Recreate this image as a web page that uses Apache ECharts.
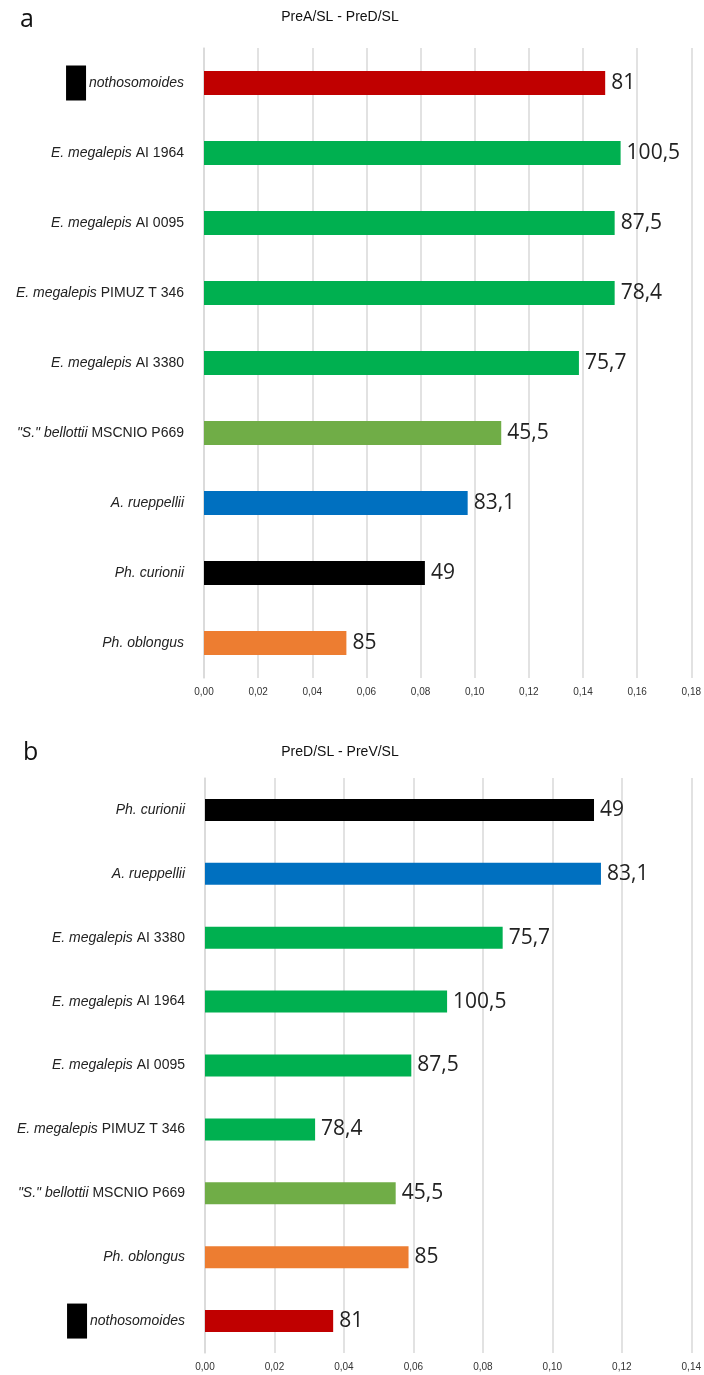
<!DOCTYPE html>
<html>
<head>
<meta charset="utf-8">
<script src="https://cdn.jsdelivr.net/npm/echarts@6/dist/echarts.min.js"></script>
<style>
  html, body { margin: 0; padding: 0; background: #fff; }
  #main { width: 704px; height: 1375px; }
</style>
</head>
<body>
<div id="main"></div>
<script>
  // panel a: PreA/SL - PreD/SL
  var catsA = ['nothosomoides', 'E. megalepis AI 1964', 'E. megalepis AI 0095', 'E. megalepis PIMUZ T 346',
    'E. megalepis AI 3380', '"S." bellottii MSCNIO P669', 'A. rueppellii', 'Ph. curionii', 'Ph. oblongus'];
  var valsA = [0.1482, 0.1539, 0.1517, 0.1517, 0.1385, 0.1098, 0.0974, 0.0816, 0.0526];
  var labelsA = ['81', '100,5', '87,5', '78,4', '75,7', '45,5', '83,1', '49', '85'];

  // panel b: PreD/SL - PreV/SL
  var catsB = ['Ph. curionii', 'A. rueppellii', 'E. megalepis AI 3380', 'E. megalepis AI 1964',
    'E. megalepis AI 0095', 'E. megalepis PIMUZ T 346', '"S." bellottii MSCNIO P669', 'Ph. oblongus', 'nothosomoides'];
  var valsB = [0.1120, 0.1140, 0.0857, 0.0697, 0.0594, 0.0317, 0.0549, 0.0586, 0.0369];
  var labelsB = ['49', '83,1', '75,7', '100,5', '87,5', '78,4', '45,5', '85', '81'];

  var taxonColor = {
    'nothosomoides': '#C00000',
    'E. megalepis': '#00B050',
    '"S." bellottii': '#70AD47',
    'A. rueppellii': '#0070C0',
    'Ph. curionii': '#000000',
    'Ph. oblongus': '#ED7D31'
  };

  function splitName(name) {
    var m = /^(.*?)( [A-Z]{2,}.*)?$/.exec(name);
    return { taxon: m[1], rest: m[2] || '' };
  }

  function catLabel(name) {
    var p = splitName(name);
    var s = '';
    if (p.taxon === 'nothosomoides') s += '{box|}{gap|}';
    s += '{i|' + p.taxon + '}';
    if (p.rest) s += '{n|' + p.rest + '}';
    return s;
  }

  function barData(cats, vals) {
    return vals.map(function (v, i) {
      return { value: v, itemStyle: { color: taxonColor[splitName(cats[i]).taxon] } };
    });
  }

  var gridLine = '#d9d9d9';
  var richCat = {
    i: { fontStyle: 'italic', fontFamily: 'Liberation Sans', fontSize: 14, color: '#222' },
    n: { fontFamily: 'Liberation Sans', fontSize: 14, color: '#222' },
    box: { width: 20, height: 35, backgroundColor: '#000' },
    gap: { width: 3 }
  };

  function xAxisOf(gi, max) {
    return {
      type: 'value', gridIndex: gi, min: 0, max: max, interval: 0.02,
      axisLine: { show: false }, axisTick: { show: false },
      splitLine: { lineStyle: { color: gridLine, width: 1.5 } },
      axisLabel: {
        margin: 9, fontSize: 10, fontFamily: 'Liberation Sans', color: '#333',
        formatter: function (v) { return v.toFixed(2).replace('.', ','); }
      }
    };
  }

  function yAxisOf(gi, cats) {
    return {
      type: 'category', gridIndex: gi, data: cats, inverse: true,
      axisLine: { lineStyle: { color: gridLine, width: 1.5 } },
      axisTick: { show: false },
      axisLabel: { margin: 20, formatter: catLabel, rich: richCat }
    };
  }

  function seriesOf(gi, cats, vals, labels, bw) {
    return {
      type: 'bar', xAxisIndex: gi, yAxisIndex: gi, barWidth: bw,
      data: barData(cats, vals),
      animation: false,
      label: {
        show: true, position: 'right', distance: 6,
        fontFamily: 'Open Sans', fontSize: 21, color: '#222',
        formatter: function (p) { return labels[p.dataIndex]; }
      }
    };
  }

  var chart = echarts.init(document.getElementById('main'));
  chart.setOption({
    animation: false,
    graphic: [
      { type: 'text', x: 20, y: 20, style: { text: 'a', font: '25px "Open Sans"', fill: '#111', textVerticalAlign: 'middle' } },
      { type: 'text', x: 340, y: 17, style: { text: 'PreA/SL - PreD/SL', font: '14px "Liberation Sans"', fill: '#111', textAlign: 'center', textVerticalAlign: 'middle' } },
      { type: 'text', x: 23, y: 753, style: { text: 'b', font: '25px "Open Sans"', fill: '#111', textVerticalAlign: 'middle' } },
      { type: 'text', x: 340, y: 752, style: { text: 'PreD/SL - PreV/SL', font: '14px "Liberation Sans"', fill: '#111', textAlign: 'center', textVerticalAlign: 'middle' } }
    ],
    grid: [
      { left: 204, top: 48, width: 490, height: 630 },
      { left: 205, top: 778, width: 490, height: 575 }
    ],
    xAxis: [xAxisOf(0, 0.18), xAxisOf(1, 0.14)],
    yAxis: [yAxisOf(0, catsA), yAxisOf(1, catsB)],
    series: [
      seriesOf(0, catsA, valsA, labelsA, 24),
      seriesOf(1, catsB, valsB, labelsB, 22)
    ]
  });
</script>
</body>
</html>
